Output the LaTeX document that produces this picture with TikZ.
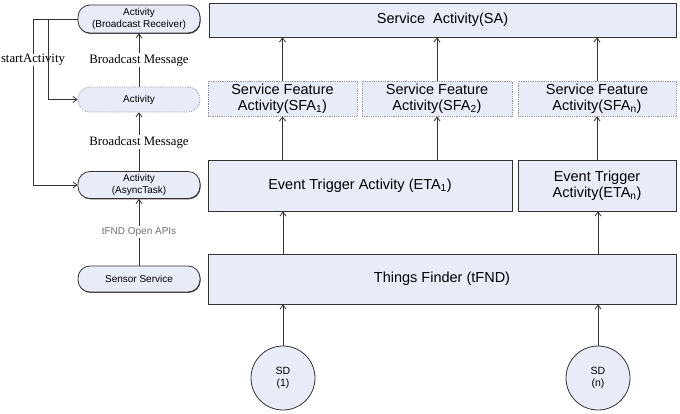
\documentclass[tikz,border=0pt]{standalone}
\usepackage{fontspec}
\setmainfont{Liberation Sans}
\newfontfamily\serifx{Liberation Serif}
\usetikzlibrary{arrows.meta,shadows}
\definecolor{boxfill}{RGB}{232,236,248}
\definecolor{edge}{RGB}{50,50,50}
\definecolor{dotedge}{RGB}{150,150,160}
\begin{document}
\begin{tikzpicture}[x=1pt,y=-1pt,
  bigbox/.style={draw=edge,line width=0.8pt,fill=boxfill,inner sep=0pt,
    drop shadow={shadow xshift=0.9pt,shadow yshift=-0.9pt,fill=black!75,opacity=1},
    font=\fontsize{14.5}{16.5}\selectfont,align=center},
  sfabox/.style={draw=dotedge,densely dotted,line width=0.8pt,fill=boxfill,inner sep=0pt,
    font=\fontsize{14.5}{16.5}\selectfont,align=center},
  pill/.style={draw=edge,line width=0.8pt,fill=boxfill,inner sep=0pt,rounded corners=12pt,
    drop shadow={shadow xshift=0.6pt,shadow yshift=-0.9pt,fill=black!75,opacity=1},
    minimum width=122pt,font=\fontsize{10}{11.5}\selectfont,align=center},
  pilldot/.style={draw=dotedge,densely dotted,line width=0.8pt,fill=boxfill,inner sep=0pt,rounded corners=12pt,
    minimum width=122pt,font=\fontsize{10}{11.5}\selectfont,align=center},
  sdc/.style={circle,draw=edge,line width=0.8pt,fill=boxfill,minimum size=64pt,inner sep=0pt,
    font=\fontsize{10.5}{12}\selectfont,align=center},
  conn/.style={draw=edge,line width=0.8pt,-{Straight Barb[length=4pt,width=6pt]}},
  lab/.style={fill=white,inner sep=1pt,font=\serifx\fontsize{12.8}{14}\selectfont},
]
\useasboundingbox (0,0) rectangle (680,413);
% right column
\node[bigbox,minimum width=467pt,minimum height=34pt] (SA) at (442.5,20) {Service\ \ Activity(SA)};
\node[sfabox,minimum width=149pt,minimum height=35pt] (SFA1) at (282.5,98.5) {Service Feature\\Activity(SFA\textsubscript{1})};
\node[sfabox,minimum width=150pt,minimum height=35pt] (SFA2) at (437,98.5) {Service Feature\\Activity(SFA\textsubscript{2})};
\node[sfabox,minimum width=158pt,minimum height=35pt] (SFAn) at (597,98.5) {Service Feature\\Activity(SFA\textsubscript{n})};
\node[bigbox,minimum width=304pt,minimum height=51pt] (ETA1) at (360,185.5) {Event Trigger Activity (ETA\textsubscript{1})};
\node[bigbox,minimum width=158pt,minimum height=51pt] (ETAn) at (597,185.5) {Event Trigger\\Activity(ETA\textsubscript{n})};
\node[bigbox,minimum width=468pt,minimum height=50pt] (TF) at (442,279) {Things Finder (tFND)};
\node[sdc] (SD1) at (283,378) {SD\\(1)};
\node[sdc] (SDn) at (598,378) {SD\\(n)};
% right arrows
\draw[conn] (SD1.north) -- (SD1.north |- TF.south);
\draw[conn] (SDn.north) -- (SDn.north |- TF.south);
\draw[conn] (TF.north -| SD1.north) -- (SD1.north |- ETA1.south);
\draw[conn] (TF.north -| SDn.north) -- (SDn.north |- ETAn.south);
\draw[conn] (SFA1.south |- ETA1.north) -- (SFA1.south);
\draw[conn] (SFA2.south |- ETA1.north) -- (SFA2.south);
\draw[conn] (SFAn.south |- ETAn.north) -- (SFAn.south);
\draw[conn] (SFA1.north) -- (SFA1.north |- SA.south);
\draw[conn] (SFA2.north) -- (SFA2.north |- SA.south);
\draw[conn] (SFAn.north) -- (SFAn.north |- SA.south);
% left column
\node[pill,minimum height=28pt] (BR) at (139,19) {Activity\\(Broadcast Receiver)};
\node[pilldot,minimum height=25pt] (ACT) at (139,99.5) {Activity};
\node[pill,minimum height=27pt] (AT) at (139,185) {Activity\\(AsyncTask)};
\node[pill,minimum height=26pt] (SS) at (139,279) {Sensor Service};
\draw[conn] (SS.north) -- (AT.south);
\draw[conn] (AT.north) -- (ACT.south);
\draw[conn] (ACT.north) -- (BR.south);
\node[lab] (bm1) at (139,60) {Broadcast Message};
\node[lab] (bm2) at (139,142) {Broadcast Message};
\node[fill=white,inner sep=1pt,text=black!55,font=\fontsize{10}{11}\selectfont] (api) at (139,232) {tFND Open APIs};
% startActivity
\coordinate (c1) at (33,19);
\coordinate (c2) at (48,19);
\draw[conn] (BR.west) -- (c1) -- (c1 |- AT.west) -- (AT.west);
\node[lab,inner sep=0.5pt] (sa) at (33,60) {startActivity};
\draw[conn] (c2) -- (c2 |- ACT.west) -- (ACT.west);
\end{tikzpicture}
\end{document}
